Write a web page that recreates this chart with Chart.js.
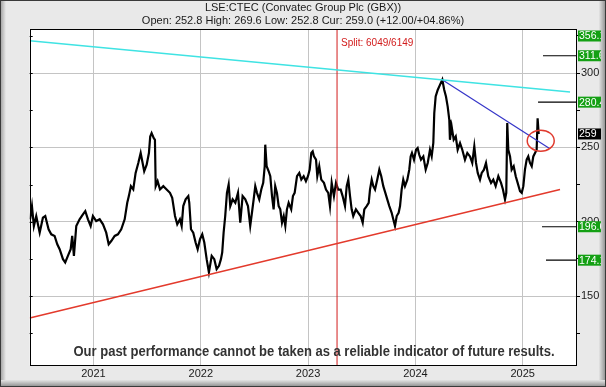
<!DOCTYPE html>
<html>
<head>
<meta charset="utf-8">
<script src="https://cdn.jsdelivr.net/npm/chart.js@4.4.1/dist/chart.umd.min.js"></script>
<style>
  html, body { margin: 0; padding: 0; background: #e8e8e8; }
  canvas { display: block; }
</style>
</head>
<body>
<canvas id="chart" width="606" height="387"></canvas>
<script>
// Texts
const titleText = 'LSE:CTEC (Convatec Group Plc (GBX))';
const subtitleText = 'Open: 252.8 High: 269.6 Low: 252.8 Cur: 259.0 (+12.00/+04.86%)';
const disclaimer = 'Our past performance cannot be taken as a reliable indicator of future results.';
const splitLabel = 'Split: 6049/6149';

// Axis ranges (decimal years / pence)
const xRange = [2020.406, 2025.506];
const yRange = [103.6, 329.6];

// Price history
const dates = [
  2020.410, 2020.427, 2020.445, 2020.467, 2020.499, 2020.529, 2020.551, 2020.582, 2020.607, 2020.638,
  2020.663, 2020.685, 2020.716, 2020.737, 2020.762, 2020.788, 2020.802, 2020.818, 2020.840, 2020.871,
  2020.902, 2020.924, 2020.949, 2020.974, 2020.995, 2021.026, 2021.058, 2021.089, 2021.119, 2021.142,
  2021.166, 2021.198, 2021.228, 2021.259, 2021.291, 2021.315, 2021.330, 2021.349, 2021.371, 2021.393,
  2021.418, 2021.440, 2021.455, 2021.473, 2021.496, 2021.517, 2021.529, 2021.542, 2021.561, 2021.573,
  2021.580, 2021.598, 2021.620, 2021.651, 2021.682, 2021.713, 2021.734, 2021.760, 2021.781, 2021.806,
  2021.822, 2021.837, 2021.859, 2021.884, 2021.893, 2021.909, 2021.930, 2021.952, 2021.971, 2021.993,
  2022.014, 2022.033, 2022.055, 2022.076, 2022.102, 2022.126, 2022.148, 2022.170, 2022.188, 2022.200,
  2022.213, 2022.228, 2022.244, 2022.260, 2022.275, 2022.297, 2022.322, 2022.347, 2022.368, 2022.390,
  2022.415, 2022.440, 2022.461, 2022.477, 2022.493, 2022.508, 2022.524, 2022.545, 2022.564, 2022.582,
  2022.596, 2022.601, 2022.614, 2022.633, 2022.648, 2022.664, 2022.679, 2022.694, 2022.710, 2022.726,
  2022.741, 2022.757, 2022.773, 2022.788, 2022.803, 2022.819, 2022.843, 2022.859, 2022.875, 2022.897,
  2022.918, 2022.937, 2022.959, 2022.980, 2022.999, 2023.015, 2023.030, 2023.043, 2023.055, 2023.074,
  2023.086, 2023.104, 2023.123, 2023.148, 2023.167, 2023.188, 2023.204, 2023.220, 2023.241, 2023.260,
  2023.281, 2023.304, 2023.322, 2023.344, 2023.360, 2023.375, 2023.391, 2023.406, 2023.421, 2023.446,
  2023.468, 2023.490, 2023.509, 2023.524, 2023.546, 2023.565, 2023.577, 2023.593, 2023.608, 2023.624,
  2023.645, 2023.664, 2023.682, 2023.701, 2023.720, 2023.738, 2023.757, 2023.779, 2023.794, 2023.810,
  2023.826, 2023.844, 2023.857, 2023.872, 2023.887, 2023.903, 2023.925, 2023.943, 2023.956, 2023.968,
  2023.987, 2024.006, 2024.021, 2024.036, 2024.052, 2024.074, 2024.096, 2024.115, 2024.136, 2024.152,
  2024.167, 2024.176, 2024.189, 2024.208, 2024.229, 2024.251, 2024.269, 2024.285, 2024.301, 2024.316,
  2024.322, 2024.338, 2024.357, 2024.376, 2024.394, 2024.416, 2024.437, 2024.462, 2024.484, 2024.509,
  2024.530, 2024.549, 2024.565, 2024.581, 2024.602, 2024.618, 2024.639, 2024.658, 2024.679, 2024.705,
  2024.726, 2024.748, 2024.773, 2024.798, 2024.816, 2024.835, 2024.847, 2024.856, 2024.866, 2024.882,
  2024.897, 2024.916, 2024.935, 2024.953, 2024.975, 2024.991, 2025.006, 2025.021, 2025.037, 2025.052,
  2025.068, 2025.084, 2025.099, 2025.115, 2025.130, 2025.139, 2025.149
];
const closes = [
  201.6, 210.5, 197.1, 203.8, 192.6, 202.7, 203.8, 194.9, 191.5, 190.4,
  184.8, 181.5, 174.8, 172.6, 177.0, 181.5, 190.4, 177.0, 197.1, 201.6,
  204.9, 207.1, 201.6, 197.1, 203.8, 200.4, 201.6, 198.2, 192.6, 184.8,
  187.0, 190.4, 191.5, 194.9, 201.6, 212.7, 217.2, 223.9, 221.7, 232.8,
  239.5, 246.2, 240.6, 233.9, 238.4, 246.2, 257.3, 259.6, 256.3, 255.1,
  223.9, 227.2, 221.7, 223.9, 221.7, 219.4, 216.1, 203.8, 198.2, 201.6,
  197.1, 210.5, 215.0, 217.2, 212.7, 194.9, 192.6, 186.0, 181.5, 188.2,
  191.5, 186.0, 174.8, 165.9, 177.0, 174.8, 168.1, 170.3, 174.8, 179.3,
  192.6, 203.8, 219.4, 225.0, 210.5, 215.0, 212.7, 219.4, 199.3, 217.2,
  215.0, 210.5, 197.1, 206.0, 215.0, 223.9, 219.4, 215.0, 221.6, 226.1,
  237.3, 251.8, 237.3, 233.9, 230.6, 217.2, 208.3, 223.9, 219.4, 210.5,
  208.3, 199.3, 203.8, 197.1, 208.3, 212.7, 208.3, 217.2, 219.4, 230.6,
  232.8, 228.3, 230.6, 227.2, 230.6, 235.0, 246.2, 247.3, 243.9, 241.7,
  230.6, 237.3, 228.3, 226.1, 221.6, 219.4, 210.5, 226.1, 217.2, 226.1,
  221.6, 221.6, 217.2, 210.5, 223.9, 228.3, 217.2, 208.3, 203.8, 208.3,
  206.0, 203.8, 199.3, 208.3, 210.5, 212.7, 221.6, 228.3, 223.9, 221.6,
  228.3, 235.0, 230.6, 223.9, 219.4, 215.0, 210.5, 206.0, 201.6, 197.1,
  203.8, 206.0, 210.5, 221.6, 228.3, 223.9, 228.3, 235.0, 243.9, 246.2,
  241.7, 248.4, 249.6, 245.0, 241.7, 243.9, 235.0, 239.5, 248.4, 243.9,
  252.9, 273.0, 284.2, 288.6, 292.0, 295.5, 288.6, 284.2, 277.4, 268.5,
  255.1, 264.0, 255.1, 257.3, 248.4, 252.9, 248.4, 241.7, 246.2, 243.9,
  239.5, 250.6, 239.5, 232.8, 228.3, 232.8, 235.0, 239.5, 230.6, 226.1,
  228.3, 223.9, 230.6, 226.1, 221.6, 215.0, 219.4, 266.3, 248.4, 243.9,
  235.0, 237.3, 230.6, 226.1, 220.5, 219.4, 223.9, 235.0, 241.7, 243.9,
  239.5, 237.3, 243.9, 246.2, 248.4, 269.6, 259.0
];

// Trend lines (two end points each)
const channelTopX = [2020.406, 2025.441];
const channelTopY = [321.7, 287.2];
const downTrendX = [2024.254, 2025.254];
const downTrendY = [295.3, 249.1];
const supportX = [2020.406, 2025.348];
const supportY = [135.2, 221.6];
const splitX = 2023.27;

// Target levels on the right
const targetLevels = [356.1, 311.6, 280.4, 196.6, 174.1];
const targetStartX = [null, 2025.189, 2025.143, 2025.180, 2025.217];
const currentPrice = 259.0;
const currentLabel = '259';
const circleCentre = [2025.168, 254.5];

const FONT = "'Liberation Sans', Arial, sans-serif";
Chart.defaults.font.family = FONT;
Chart.defaults.color = '#1a1a1a';

const pts = (xs, ys) => xs.map((x, i) => ({ x: x, y: ys[i] }));

const datasets = [
  { data: pts(channelTopX, channelTopY), borderColor: '#3fe3e3', borderWidth: 1.5 },
  { data: pts(downTrendX, downTrendY), borderColor: '#3535c8', borderWidth: 1.2 },
  { data: pts(supportX, supportY), borderColor: '#e33a2c', borderWidth: 1.5 },
  { data: pts([splitX, splitX], yRange), borderColor: '#d21c1c', borderWidth: 1 }
];
targetLevels.forEach((lvl, i) => {
  if (targetStartX[i] === null) return;
  datasets.push({ data: pts([targetStartX[i], xRange[1]], [lvl, lvl]), borderColor: '#000', borderWidth: 1.2 });
});
datasets.push({ data: pts(dates, closes), borderColor: '#000', borderWidth: 2.2 });
datasets.forEach(d => {
  d.pointRadius = 0;
  d.tension = 0;
  d.fill = false;
  d.yAxisID = 'y';
  d.xAxisID = 'x';
});

const overlay = {
  id: 'overlay',
  beforeDraw(chart) {
    const { ctx, chartArea: a, width, height } = chart;
    ctx.save();
    ctx.fillStyle = '#e9e9e9';
    ctx.fillRect(0, 0, width, height);
    // bevelled frame
    let g = ctx.createLinearGradient(0, 0, 6, 0);
    g.addColorStop(0, '#9a9a9a'); g.addColorStop(1, '#e9e9e9');
    ctx.fillStyle = g; ctx.fillRect(0, 0, 6, height);
    g = ctx.createLinearGradient(width - 7, 0, width, 0);
    g.addColorStop(0, '#e4e4e4'); g.addColorStop(1, '#8a8a8a');
    ctx.fillStyle = g; ctx.fillRect(width - 7, 0, 7, height);
    g = ctx.createLinearGradient(0, height - 7, 0, height);
    g.addColorStop(0, '#e4e4e4'); g.addColorStop(1, '#8a8a8a');
    ctx.fillStyle = g; ctx.fillRect(0, height - 7, width, 7);
    ctx.strokeStyle = '#3a3a3a';
    ctx.lineWidth = 1;
    ctx.strokeRect(0.5, 0.5, width - 1, height - 1);
    // plot background
    ctx.fillStyle = '#ffffff';
    ctx.fillRect(a.left, a.top, a.right - a.left, a.bottom - a.top);
    ctx.restore();
  },
  afterDatasetsDraw(chart) {
    const { ctx, chartArea: a, scales } = chart;
    const x = scales.x, y = scales.y;
    ctx.save();
    // circle around the break
    ctx.strokeStyle = '#e03a2e';
    ctx.lineWidth = 1.5;
    ctx.beginPath();
    ctx.ellipse(x.getPixelForValue(circleCentre[0]), y.getPixelForValue(circleCentre[1]), 13.5, 10.5, 0, 0, Math.PI * 2);
    ctx.stroke();
    // split label
    ctx.fillStyle = '#d21c1c';
    ctx.font = '10px ' + FONT;
    ctx.textBaseline = 'middle';
    ctx.textAlign = 'left';
    ctx.fillText(splitLabel, x.getPixelForValue(splitX) + 4, a.top + 14);
    // disclaimer
    ctx.font = 'bold 14px ' + FONT;
    const w = ctx.measureText(disclaimer).width;
    const sx = 481 / w;
    ctx.translate(314, a.bottom - 13);
    ctx.scale(sx, 1);
    ctx.fillStyle = '#333333';
    ctx.textAlign = 'center';
    ctx.fillText(disclaimer, 0, 0);
    ctx.restore();
  },
  afterDraw(chart) {
    const { ctx, chartArea: a, scales } = chart;
    const y = scales.y;
    ctx.save();
    ctx.strokeStyle = '#000';
    ctx.lineWidth = 1;
    // plot border
    ctx.strokeRect(Math.round(a.left) + 0.5, Math.round(a.top) + 0.5, Math.round(a.right - a.left) - 1, Math.round(a.bottom - a.top));
    // inward ticks on left edge
    y.ticks.forEach(t => {
      const py = Math.round(y.getPixelForValue(t.value)) + 0.5;
      ctx.beginPath();
      ctx.moveTo(a.left, py);
      ctx.lineTo(a.left + 3, py);
      ctx.stroke();
    });
    // price labels on the right
    ctx.font = '10.5px ' + FONT;
    ctx.textBaseline = 'middle';
    ctx.textAlign = 'left';
    const bx = a.right + 1, bw = 23, bh = 11;
    const box = (val, text, fill) => {
      let py = y.getPixelForValue(val);
      py = Math.max(a.top + 7, Math.min(a.bottom - 6, py));
      ctx.fillStyle = fill;
      ctx.fillRect(bx, py - bh / 2, bw, bh);
      ctx.save();
      ctx.beginPath();
      ctx.rect(bx, py - bh / 2, bw, bh);
      ctx.clip();
      ctx.fillStyle = '#fff';
      ctx.fillText(text, bx + 1, py + 0.5);
      ctx.restore();
    };
    targetLevels.forEach(lvl => box(lvl, lvl.toFixed(1), '#14a014'));
    box(currentPrice, currentLabel, '#000');
    ctx.restore();
  }
};

new Chart(document.getElementById('chart').getContext('2d'), {
  type: 'line',
  data: { datasets: datasets },
  plugins: [overlay],
  options: {
    responsive: false,
    animation: false,
    devicePixelRatio: 1,
    layout: { padding: 0 },
    plugins: {
      legend: { display: false },
      tooltip: { enabled: false },
      title: {
        display: true, text: titleText, color: '#1a1a1a',
        font: { size: 11, weight: 'normal' }, padding: { top: 1, bottom: 0 }
      },
      subtitle: {
        display: true, text: subtitleText, color: '#1a1a1a',
        font: { size: 11 }, padding: { top: 0, bottom: 1.6 }
      }
    },
    scales: {
      x: {
        type: 'linear',
        min: xRange[0], max: xRange[1],
        border: { display: false },
        grid: { color: '#c4c4c4', drawTicks: false },
        ticks: {
          stepSize: 1, includeBounds: false, padding: 2,
          color: '#1a1a1a', font: { size: 11 },
          callback: v => String(Math.round(v))
        },
        afterFit: s => { s.height = 22; }
      },
      y: {
        position: 'right',
        min: yRange[0], max: yRange[1],
        border: { display: false },
        grid: {
          color: c => (c.tick && c.tick.value % 50 === 0) ? '#c4c4c4' : 'rgba(0,0,0,0)',
          tickColor: '#000', tickLength: 3
        },
        ticks: {
          stepSize: 25, includeBounds: false, padding: 1,
          color: '#1a1a1a', font: { size: 11 },
          callback: v => (v % 50 === 0 ? String(v) : '')
        },
        afterFit: s => { s.width = 29; }
      },
      yLeft: {
        position: 'left',
        min: yRange[0], max: yRange[1],
        border: { display: false },
        grid: { display: false },
        ticks: { display: false },
        afterFit: s => { s.width = 29.7; }
      }
    }
  }
});
</script>
</body>
</html>
